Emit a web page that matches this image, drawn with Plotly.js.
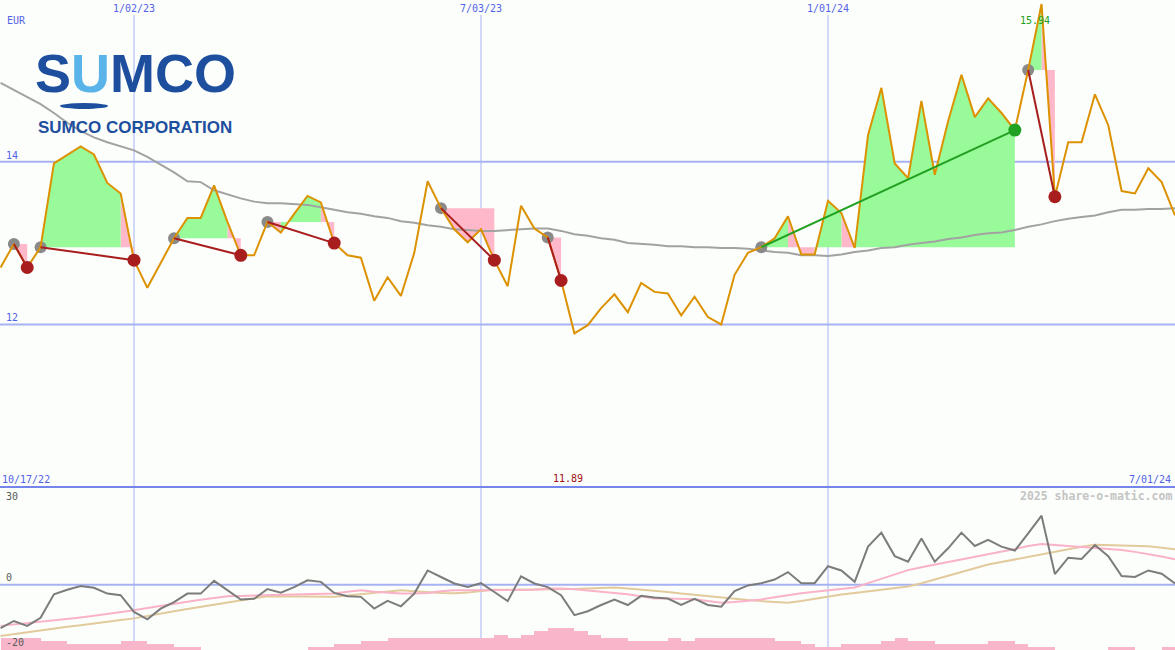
<!DOCTYPE html>
<html><head><meta charset="utf-8">
<script src="https://cdn.plot.ly/plotly-3.0.1.min.js"></script>
<style>html,body{margin:0;padding:0;background:#fcfefc;}#chart{width:1175px;height:650px;}</style>
</head><body><div id="chart"></div>
<script>
// ---------- DATA ----------
const firstWeek = '2022-10-24';           // weekly closes, one per Monday
const rangeEnd = '2024-07-01';
const currency = 'EUR';
const startLabel = '10/17/22';
const endLabel = '7/01/24';
const tickDates = ['2023-01-02', '2023-07-03', '2024-01-01'];
const tickLabels = ['1/02/23', '7/03/23', '1/01/24'];
const priceGrid = [14, 12];
const lowerGrid = [30, 0, -20];
const watermark = '2025 share-o-matic.com';
const companyShort = ['S', 'U', 'MCO'];
const companyName = 'SUMCO CORPORATION';

const price = [12.70,12.99,12.70,12.95,13.98,14.08,14.19,14.09,13.74,13.61,
  12.79,12.45,12.75,13.06,13.31,13.31,13.71,13.26,12.85,12.85,
  13.26,13.13,13.36,13.58,13.50,13.00,12.85,12.82,12.29,12.58,
  12.35,12.88,13.76,13.43,13.17,13.01,13.17,12.79,12.47,13.46,
  13.18,13.07,12.54,11.89,11.99,12.20,12.37,12.15,12.51,12.40,
  12.38,12.11,12.34,12.09,12.00,12.61,12.88,12.95,13.06,13.33,
  12.86,12.86,13.52,13.37,12.94,14.33,14.91,13.98,13.80,14.75,
  13.84,14.50,15.07,14.55,14.78,14.60,14.39,15.13,15.94,13.57,
  14.24,14.24,14.83,14.45,13.64,13.61,13.92,13.75,13.34];

const longAvg = [14.97,14.88,14.80,14.71,14.60,14.48,14.38,14.30,14.24,14.19,
  14.14,14.06,13.97,13.87,13.76,13.75,13.65,13.60,13.55,13.51,
  13.49,13.49,13.48,13.47,13.44,13.41,13.38,13.36,13.33,13.31,
  13.27,13.25,13.22,13.20,13.17,13.16,13.15,13.15,13.16,13.17,
  13.18,13.18,13.15,13.11,13.09,13.06,13.04,13.00,12.99,12.98,
  12.96,12.96,12.95,12.95,12.94,12.94,12.93,12.91,12.89,12.88,
  12.85,12.85,12.84,12.86,12.89,12.91,12.94,12.95,12.98,13.00,
  13.02,13.05,13.07,13.10,13.12,13.13,13.16,13.20,13.23,13.27,
  13.30,13.32,13.34,13.38,13.41,13.41,13.42,13.42,13.43];

// lower panel
const momentum = [-13.3,-11.1,-12.6,-10.1,-2.9,-1.5,-0.4,-0.9,-2.7,-3.2,
  -8.3,-10.6,-7.3,-5.3,-2.7,-2.7,1.2,-1.7,-4.5,-4.3,
  -1.3,-2.4,-0.7,1.4,0.9,-2.5,-3.5,-3.7,-7.3,-4.9,
  -6.6,-2.7,4.4,2.4,0.4,-0.7,0.5,-2.2,-5.0,2.6,
  0.4,-0.7,-3.2,-9.3,-8.1,-6.2,-4.5,-6.2,-3.4,-3.9,
  -4.2,-6.2,-4.3,-6.2,-6.7,-1.9,-0.2,0.5,1.6,3.9,
  0.5,0.5,5.7,4.4,0.9,11.7,16.0,8.8,7.1,14.2,
  7.1,11.2,16.0,11.9,13.8,11.7,10.5,15.8,21.2,3.3,
  8.3,7.9,12.2,8.8,2.7,2.4,4.4,3.4,0.4];

const momFast = [-12.6,-12.2,-11.8,-11.4,-11.0,-10.6,-10.0,-9.5,-9.0,-8.4,
  -7.8,-7.1,-6.4,-5.8,-5.2,-4.6,-4.0,-3.5,-3.4,-3.3,
  -3.2,-3.1,-3.0,-2.9,-2.8,-2.7,-2.1,-1.7,-2.1,-2.4,
  -2.7,-2.7,-2.5,-2.0,-1.7,-1.7,-1.7,-1.7,-1.7,-1.7,
  -1.5,-1.2,-1.1,-1.4,-1.7,-2.0,-2.5,-2.9,-3.5,-4.2,
  -4.2,-4.2,-4.4,-5.0,-5.5,-5.3,-5.0,-4.5,-3.8,-3.1,
  -2.6,-2.1,-1.7,-1.2,-0.8,0.5,1.9,3.2,4.5,5.4,
  6.2,6.9,7.7,8.4,9.3,10.1,11.0,11.9,12.5,12.2,
  11.9,11.5,11.3,11.1,10.7,10.1,9.5,8.7,7.8];

const momSlow = [-15.7,-15.1,-14.6,-14.0,-13.5,-12.9,-12.4,-11.8,-11.3,-10.8,
  -10.3,-9.5,-8.8,-8.1,-7.4,-6.7,-6.0,-5.4,-4.7,-4.1,
  -3.5,-3.5,-3.6,-3.6,-3.7,-3.7,-3.3,-2.9,-2.5,-2.1,
  -1.7,-2.0,-2.3,-2.5,-2.6,-2.4,-1.9,-1.5,-1.5,-1.5,
  -1.5,-1.5,-1.5,-1.3,-1.1,-1.0,-0.8,-1.1,-1.4,-1.8,
  -2.2,-2.7,-3.1,-3.6,-4.1,-4.4,-4.7,-5.0,-5.2,-5.5,
  -5.0,-4.3,-3.6,-3.0,-2.5,-2.0,-1.6,-1.2,-0.5,0.5,
  1.7,2.8,4.0,5.1,6.2,7.0,7.8,8.6,9.4,10.2,
  10.9,11.7,12.3,12.2,12.1,11.9,11.8,11.4,10.9];

// weekly volume blocks (height above panel floor)
const volume = [3.7,3.7,3.7,2.8,2.8,1.85,1.85,1.85,1.85,2.8,
  2.8,1.85,1.85,0.95,0.95,0,0,0,0,0,
  0,0,0,0.95,0.95,1.85,1.85,2.8,2.8,3.7,
  3.7,3.7,3.7,3.7,3.7,3.7,3.7,4.6,3.7,4.6,
  5.8,6.8,6.8,5.8,4.6,3.7,3.7,2.8,2.8,2.8,
  3.7,2.8,3.7,3.7,3.7,3.7,3.7,3.7,2.8,2.8,
  1.85,0.95,0.95,1.85,1.85,1.85,2.8,3.7,2.8,2.8,
  1.85,1.85,1.85,1.85,2.8,2.8,1.85,0.95,0.95,0,
  0,0,0,0.95,0.95,0,0,0.95];

// trading signals (week indexes)
const entries = [1, 3, 13, 20, 33, 41, 57, 77];
const exits   = [2, 10, 18, 25, 37, 42, 76, 79];

// ---------- STYLE ----------
const C = {
  bg:'#fcfefc', grid:'#a6b2f4', sep:'#7585ec', label:'#5262e6',
  price:'#dc9200', avg:'#a2a2a2', up:'#98fa98', down:'#ffb8c9',
  lossLine:'#a81e1e', winLine:'#22a022', entry:'#8a8a8a',
  mom:'#7c7c7c', fast:'#f9b2c8', slow:'#e2ca9c', vol:'#f8b6ca',
  logo:'#1d4f9e', logoU:'#5ab4ea'
};
const DAY = 864e5, WEEK = 7*DAY;
const t0 = Date.parse(firstWeek);
const iso = ms => new Date(ms).toISOString().replace('T',' ').replace('Z','');
const tms = price.map((_, i) => t0 + i*WEEK);
const xs = tms.map(iso);
const W = 1175, H = 650;
const splitY = 163/H;
const pxX = p => p/W, pxY = p => 1 - p/H;

// ---------- TRACES ----------
const traces = [];
// trade fills
const fills = {up:{x:[],y:[]}, down:{x:[],y:[]}};
entries.forEach((e, k) => {
  const ex = exits[k], E = price[e];
  let j = e;
  while (j < ex) {
    const up = price[j+1] > E;
    let b = j;
    while (b < ex && (price[b+1] > E) === up) b++;
    const f = up ? fills.up : fills.down;
    f.x.push(xs[j]); f.y.push(E);
    for (let q = j; q <= b; q++) { f.x.push(xs[q]); f.y.push(price[q]); }
    f.x.push(xs[b]); f.y.push(E);
    f.x.push(null); f.y.push(null);
    j = b;
  }
});
['down','up'].forEach(key => traces.push({
  x: fills[key].x, y: fills[key].y, type:'scatter', mode:'none', fill:'toself',
  fillcolor: key==='up' ? C.up : C.down, hoverinfo:'skip', xaxis:'x', yaxis:'y'
}));
traces.push({x: xs, y: longAvg, type:'scatter', mode:'lines',
  line:{color:C.avg, width:2}, hoverinfo:'skip', xaxis:'x', yaxis:'y'});
traces.push({x: entries.map(i=>xs[i]), y: entries.map(i=>price[i]), type:'scatter', mode:'markers',
  marker:{color:C.entry, size:12}, hoverinfo:'skip', xaxis:'x', yaxis:'y'});
traces.push({x: xs, y: price, type:'scatter', mode:'lines',
  line:{color:C.price, width:2}, hoverinfo:'skip', xaxis:'x', yaxis:'y'});
const sig = {win:{x:[],y:[]}, loss:{x:[],y:[]}};
entries.forEach((e, k) => {
  const ex = exits[k];
  const s = price[ex] > price[e] ? sig.win : sig.loss;
  s.x.push(xs[e], xs[ex], null); s.y.push(price[e], price[ex], null);
});
traces.push({x: sig.loss.x, y: sig.loss.y, type:'scatter', mode:'lines',
  line:{color:C.lossLine, width:2}, hoverinfo:'skip', xaxis:'x', yaxis:'y'});
traces.push({x: sig.win.x, y: sig.win.y, type:'scatter', mode:'lines',
  line:{color:C.winLine, width:2}, hoverinfo:'skip', xaxis:'x', yaxis:'y'});
traces.push({x: exits.map(i=>xs[i]), y: exits.map(i=>price[i]), type:'scatter', mode:'markers',
  marker:{color: exits.map((ex,k)=> price[ex] > price[entries[k]] ? C.winLine : C.lossLine), size:13},
  hoverinfo:'skip', xaxis:'x', yaxis:'y'});

// lower panel
traces.push({x: volume.map((_,k)=>iso(tms[k] + WEEK/2)), y: volume, base: -20, width: WEEK,
  type:'bar', marker:{color:C.vol, line:{width:0}}, hoverinfo:'skip', xaxis:'x', yaxis:'y2'});
traces.push({x: xs, y: momSlow, type:'scatter', mode:'lines', line:{color:C.slow, width:2},
  hoverinfo:'skip', xaxis:'x', yaxis:'y2'});
traces.push({x: xs, y: momFast, type:'scatter', mode:'lines', line:{color:C.fast, width:2},
  hoverinfo:'skip', xaxis:'x', yaxis:'y2'});
traces.push({x: xs, y: momentum, type:'scatter', mode:'lines', line:{color:C.mom, width:2},
  hoverinfo:'skip', xaxis:'x', yaxis:'y2'});

// ---------- SHAPES ----------
const shapes = [];
tickDates.forEach(d => shapes.push({type:'line', layer:'below', xref:'x', yref:'paper',
  x0:d, x1:d, y0:0, y1:pxY(15), line:{color:C.grid, width:1}}));
priceGrid.forEach(v => shapes.push({type:'line', layer:'below', xref:'paper', yref:'y',
  x0:0, x1:1, y0:v, y1:v, line:{color:C.grid, width:2}}));
shapes.push({type:'line', layer:'below', xref:'paper', yref:'y2', x0:0, x1:1, y0:0, y1:0,
  line:{color:C.grid, width:2}});
shapes.push({type:'line', layer:'above', xref:'paper', yref:'paper', x0:0, x1:1, y0:splitY, y1:splitY,
  line:{color:C.sep, width:2}});
// logo underline ellipse
shapes.push({type:'circle', layer:'above', xref:'paper', yref:'paper', x0:pxX(60), x1:pxX(108),
  y0:pxY(103), y1:pxY(109), fillcolor:C.logo, line:{width:0}});

// ---------- ANNOTATIONS ----------
const mono = 'DejaVu Sans Mono';
const ann = [];
const txt = (o) => Object.assign({showarrow:false, borderpad:0}, o);
ann.push(txt({text:currency, xref:'paper', yref:'paper', x:pxX(6), y:pxY(20), xanchor:'left', yanchor:'middle',
  font:{family:mono, size:10, color:C.label}}));
tickDates.forEach((d,i) => ann.push(txt({text:tickLabels[i], xref:'x', yref:'paper', x:d, y:pxY(8),
  xanchor:'center', yanchor:'middle', font:{family:mono, size:10, color:C.label}})));
priceGrid.forEach(v => ann.push(txt({text:String(v), xref:'paper', yref:'y', x:pxX(5), y:v,
  xanchor:'left', yanchor:'bottom', yshift:0, font:{family:mono, size:10, color:C.label}})));
ann.push(txt({text:startLabel, xref:'paper', yref:'paper', x:pxX(1), y:pxY(479), xanchor:'left', yanchor:'middle',
  font:{family:mono, size:10, color:C.label}}));
ann.push(txt({text:endLabel, xref:'paper', yref:'paper', x:pxX(1172), y:pxY(479), xanchor:'right', yanchor:'middle',
  font:{family:mono, size:10, color:C.label}}));
// min / max labels
const iMax = price.indexOf(Math.max(...price)), iMin = price.indexOf(Math.min(...price));
ann.push(txt({text:price[iMax].toFixed(2), xref:'x', yref:'y', x:xs[iMax], y:price[iMax], xanchor:'center',
  yanchor:'top', xshift:-7, yshift:-10, font:{family:mono, size:10, color:'#22a022'}}));
ann.push(txt({text:price[iMin].toFixed(2), xref:'x', yref:'paper', x:xs[iMin], y:splitY, xanchor:'center',
  yanchor:'bottom', xshift:-6, yshift:2, font:{family:mono, size:10, color:'#a01010'}}));
// lower panel labels
ann.push(txt({text:String(lowerGrid[0]), xref:'paper', yref:'paper', x:pxX(5), y:pxY(496), xanchor:'left', yanchor:'middle',
  font:{family:mono, size:10, color:'#5a5a5a'}}));
ann.push(txt({text:String(lowerGrid[1]), xref:'paper', yref:'y2', x:pxX(5), y:0, xanchor:'left', yanchor:'bottom', yshift:1,
  font:{family:mono, size:10, color:'#5a5a5a'}}));
ann.push(txt({text:String(lowerGrid[2]), xref:'paper', yref:'paper', x:pxX(5), y:pxY(642), xanchor:'left', yanchor:'middle',
  font:{family:mono, size:10, color:'#5a5a5a'}}));
ann.push(txt({text:'<b>'+watermark+'</b>', xref:'paper', yref:'paper', x:pxX(1173), y:pxY(496), xanchor:'right', yanchor:'middle',
  font:{family:mono, size:11.5, color:'#c4c4c4'}}));
// logo
const logoFont = 'Liberation Sans';
const logoText = '<b>' + companyShort[0] + '<span style="color:' + C.logoU + '">' + companyShort[1] +
  '</span>' + companyShort[2] + '</b>';
ann.push(txt({text:logoText, xref:'paper', yref:'paper', x:pxX(34), y:pxY(73), xanchor:'left', yanchor:'middle',
  font:{family:logoFont, size:54, color:C.logo}}));
ann.push(txt({text:'<b>' + companyName + '</b>', xref:'paper', yref:'paper', x:pxX(37), y:pxY(127), xanchor:'left', yanchor:'middle',
  font:{family:logoFont, size:17, color:C.logo}}));

const layout = {
  width: W, height: H, margin:{l:0, r:0, t:0, b:0},
  paper_bgcolor: C.bg, plot_bgcolor: C.bg, showlegend:false,
  xaxis:{type:'date', range:[iso(t0 - 0.283*DAY), rangeEnd], showgrid:false, zeroline:false,
    showticklabels:false, showline:false, ticks:''},
  yaxis:{domain:[splitY, 1], range:[10, 15.99], showgrid:false, zeroline:false, showticklabels:false},
  yaxis2:{domain:[0, splitY], range:[-20, 30], showgrid:false, zeroline:false, showticklabels:false},
  bargap:0, shapes, annotations: ann
};
Plotly.newPlot('chart', traces, layout, {staticPlot:true, displayModeBar:false});
</script></body></html>
